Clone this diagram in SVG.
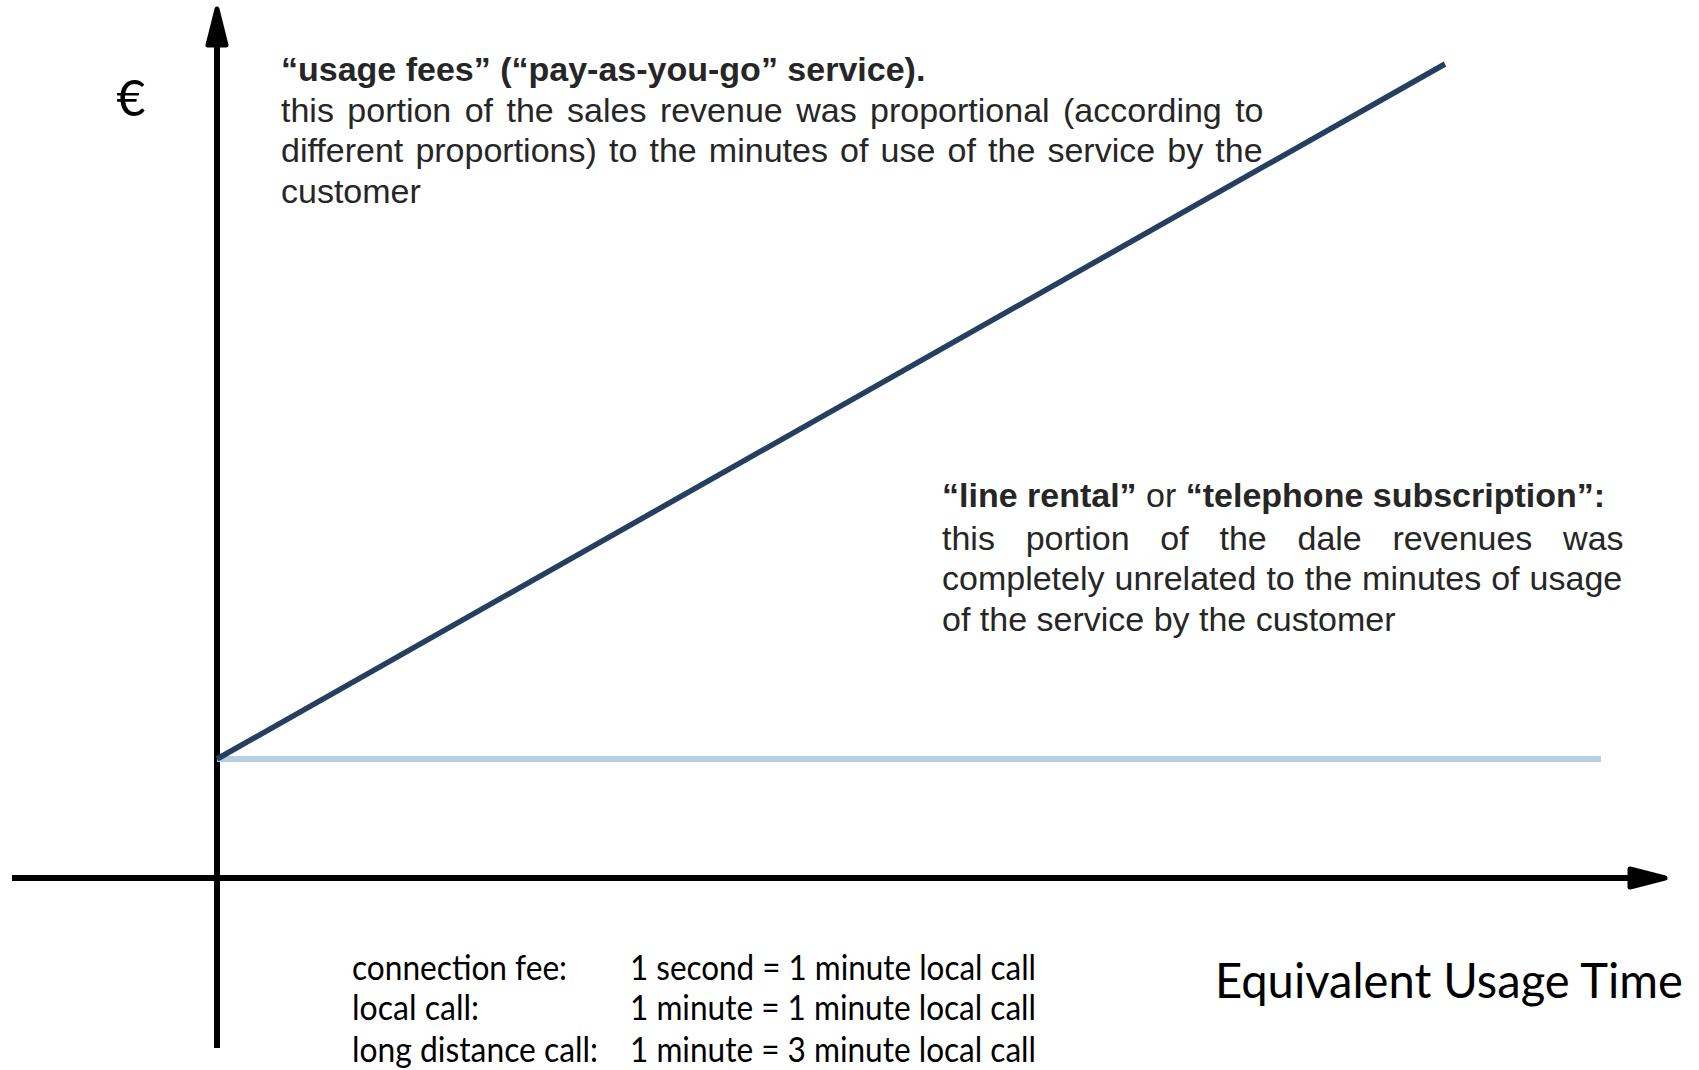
<svg xmlns="http://www.w3.org/2000/svg" width="1699" height="1070" viewBox="0 0 1699 1070">
  <style>
    .axis { stroke: #000; stroke-width: 6; fill: none; }
    .head { fill: #000; stroke: #000; stroke-width: 5; stroke-linejoin: round; }
    .note { font-family: "Liberation Sans", Arial, sans-serif; font-size: 34px; fill: #262626; }
    .b { font-weight: bold; }
    .cal { font-family: Lato, "Open Sans", sans-serif; fill: #000; }
  </style>

  <!-- axes -->
  <g id="axes">
    <line class="axis" x1="217" y1="1048" x2="217" y2="40"/>
    <polygon class="head" points="217,9 208,45 226,45"/>
    <line class="axis" x1="12" y1="878" x2="1634" y2="878"/>
    <polygon class="head" points="1665,878 1630,869 1630,887"/>
  </g>

  <!-- revenue lines -->
  <g id="connectors">
    <line id="line-rental" x1="217" y1="759" x2="1601" y2="759" stroke="#b9cde5" stroke-width="6"/>
    <line id="usage-fees" x1="217" y1="759" x2="1445" y2="64" stroke="#243f60" stroke-width="5.5"/>
  </g>

  <!-- axis labels -->
  <g id="y-label">
    <text class="cal" x="131" y="116" font-size="50" text-anchor="middle">€</text>
  </g>
  <g id="x-label">
    <text class="cal" x="1215" y="998" font-size="48" textLength="468" lengthAdjust="spacingAndGlyphs">Equivalent Usage Time</text>
  </g>

  <!-- usage fees note -->
  <g id="usage-note" class="note">
    <text x="281" y="81" class="b">“usage fees” (“pay-as-you-go” service).</text>
    <text x="281" y="122" word-spacing="3.96">this portion of the sales revenue was proportional (according to</text>
    <text x="281" y="162" word-spacing="2.7">different proportions) to the minutes of use of the service by the</text>
    <text x="281" y="203">customer</text>
  </g>

  <!-- line rental note -->
  <g id="rental-note" class="note">
    <text x="942" y="507"><tspan class="b">“line rental”</tspan> or <tspan class="b">“telephone subscription”:</tspan></text>
    <text x="942" y="550" word-spacing="21.3">this portion of the dale revenues was</text>
    <text x="942" y="590" word-spacing="0.6">completely unrelated to the minutes of usage</text>
    <text x="942" y="631">of the service by the customer</text>
  </g>

  <!-- equivalence table -->
  <g id="equivalences" class="cal" font-size="34">
    <text x="352" y="980" textLength="215" lengthAdjust="spacingAndGlyphs">connection fee:</text>
    <text x="352" y="1020" textLength="127" lengthAdjust="spacingAndGlyphs">local call:</text>
    <text x="352" y="1062" textLength="246" lengthAdjust="spacingAndGlyphs">long distance call:</text>
    <text x="630" y="980" textLength="406" lengthAdjust="spacingAndGlyphs">1 second = 1 minute local call</text>
    <text x="630" y="1020" textLength="406" lengthAdjust="spacingAndGlyphs">1 minute = 1 minute local call</text>
    <text x="630" y="1062" textLength="406" lengthAdjust="spacingAndGlyphs">1 minute = 3 minute local call</text>
  </g>
</svg>
